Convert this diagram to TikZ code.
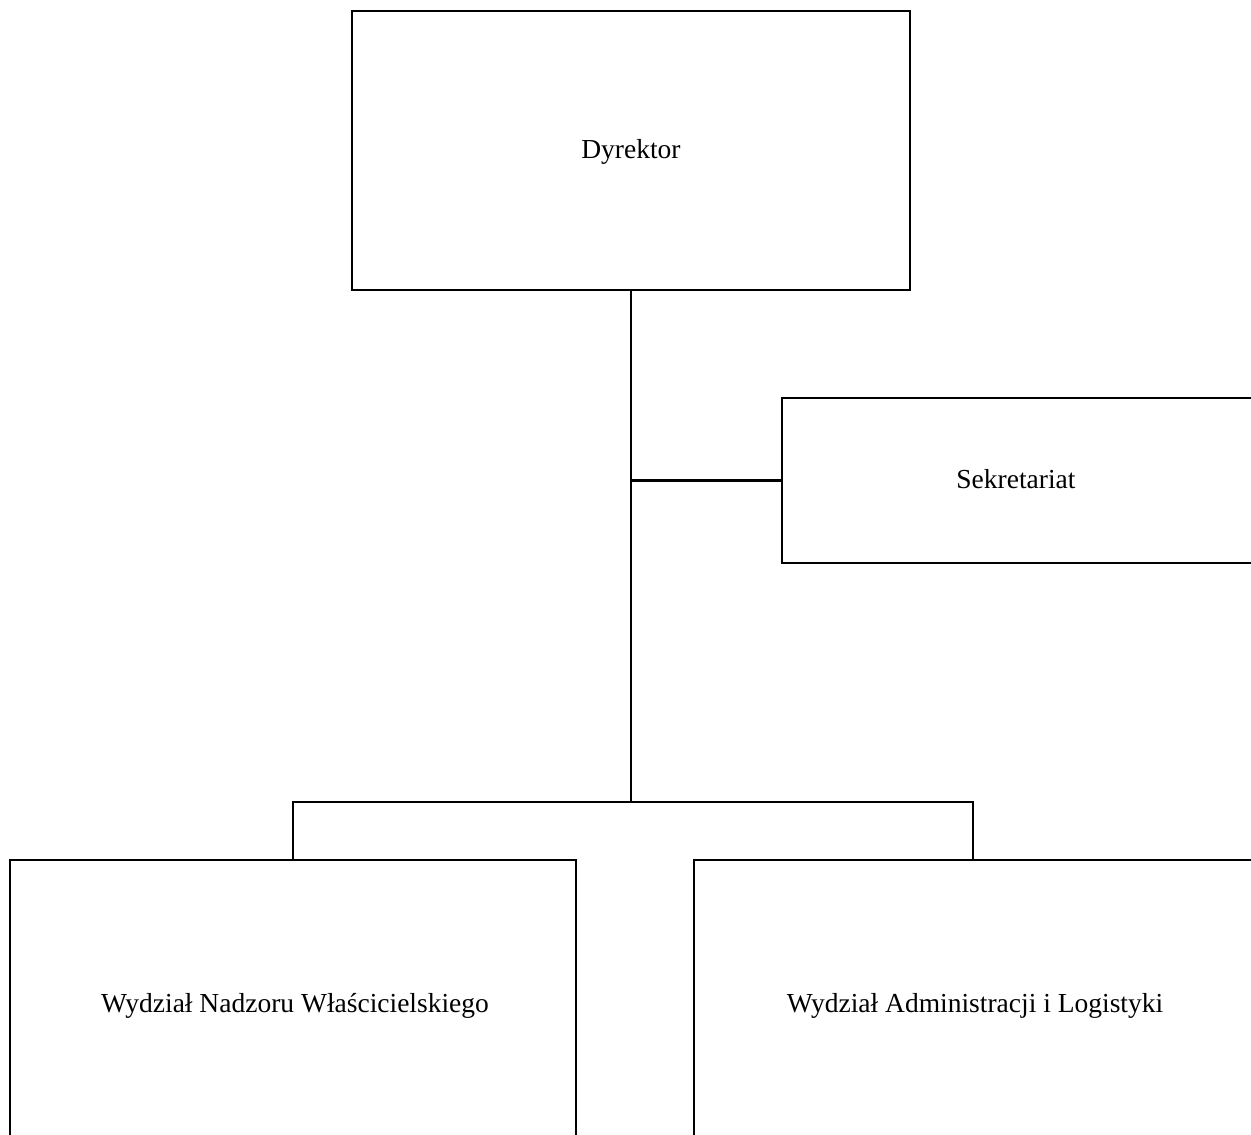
\documentclass[tikz,border=0pt]{standalone}
\usepackage{fontspec}
\setmainfont{Liberation Serif}
\begin{document}
\begin{tikzpicture}[x=1pt,y=-1pt,
  box/.style={draw=black,line width=2.4pt,rectangle,inner sep=0pt},
  lbl/.style={inner sep=0pt,anchor=base,font=\fontsize{27.5}{33}\selectfont},
  conn/.style={draw=black,line width=2.4pt}]
\useasboundingbox (0,0) rectangle (1251,1135);
\clip (0,0) rectangle (1251,1135);
\node[box,minimum width=558pt,minimum height=279pt] (dyr) at (631,150.5) {};
\node[box,minimum width=472pt,minimum height=165pt] (sek) at (1018,480.5) {};
\node[box,minimum width=566pt,minimum height=300pt] (wnw) at (293,1010) {};
\node[box,minimum width=558pt,minimum height=300pt] (wal) at (973,1010) {};
\node[lbl] (tdyr) at (631,158) {Dyrektor};
\node[lbl] (tsek) at (1016,488) {Sekretariat};
\node[lbl] (twnw) at (295,1012) {Wydział Nadzoru Właścicielskiego};
\node[lbl] (twal) at (975,1012) {Wydział Administracji i Logistyki};
\coordinate (j) at (631,802);
\draw[conn] (dyr.south) -- (j);
\draw[conn] (sek.west) -- (sek.west -| dyr.south);
\draw[conn] (wnw.north) |- (j) -| (wal.north);
\end{tikzpicture}
\end{document}
